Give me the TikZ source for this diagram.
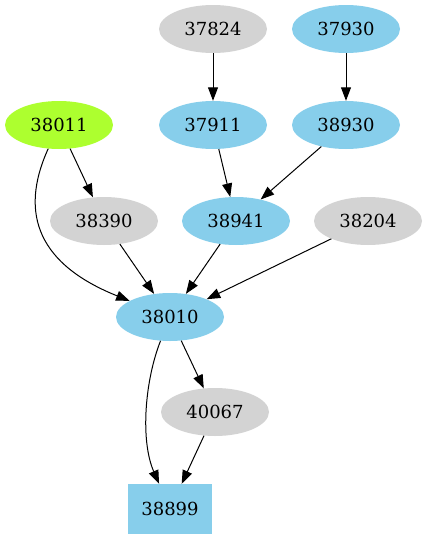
\documentclass[tikz,border=0pt]{standalone}
\usepackage{fontspec}
\setmainfont{DejaVu Serif}
\definecolor{grblue}{HTML}{87CEEB}
\definecolor{grgray}{HTML}{D3D3D3}
\definecolor{grgreen}{HTML}{ADFF2F}
\usetikzlibrary{arrows.meta,shapes.geometric}

\begin{document}
\begin{tikzpicture}[
  x=1pt, y=-1pt,
  >={Triangle[length=13.5pt,width=10pt]},
  base/.style={ellipse, minimum width=108pt, minimum height=48pt, inner sep=0pt, font=\fontsize{18}{21}\selectfont},
  bluenode/.style={base, fill=grblue},
  graynode/.style={base, fill=grgray},
  greennode/.style={base, fill=grgreen},
  boxnode/.style={rectangle, fill=grblue, minimum width=84pt, minimum height=50pt, inner sep=0pt, font=\fontsize{18}{21}\selectfont},
  arr/.style={->, line width=1pt, black}
]
\useasboundingbox (0,0) rectangle (427,539);

% top rows
\node[graynode] (n37824) at (213,29) {37824};
\node[bluenode] (n37930) at (346,29) {37930};
\node[greennode] (n38011) at (59,125) {38011};
\node[bluenode] (n37911) at (213,125) {37911};
\node[bluenode] (n38930) at (346,125) {38930};

\node[graynode] (n38390) at (104,221) {38390};
\node[bluenode] (n38941) at (236,221) {38941};
\node[graynode] (n38204) at (368,221) {38204};

% bottom part
\node[bluenode] (n38010) at (170,317) {38010};
\node[graynode] (n40067) at (215,412) {40067};
\node[boxnode] (n38899) at (170,509) {38899};

\draw[arr] (n37824) -- (n37911);
\draw[arr] (n37930) -- (n38930);
\draw[arr] (n38011) -- (n38390);
\draw[arr] (n38011) .. controls (18,215) and (40,265) .. (n38010);
\draw[arr] (n37911) -- (n38941);
\draw[arr] (n38930) -- (n38941);
\draw[arr] (n38390) -- (n38010);
\draw[arr] (n38941) -- (n38010);
\draw[arr] (n38204) -- (n38010);
\draw[arr] (n38010) -- (n40067);
\draw[arr] (n38010) .. controls (145,380) and (140,440) .. (n38899);
\draw[arr] (n40067) -- (n38899);
\end{tikzpicture}
\end{document}
